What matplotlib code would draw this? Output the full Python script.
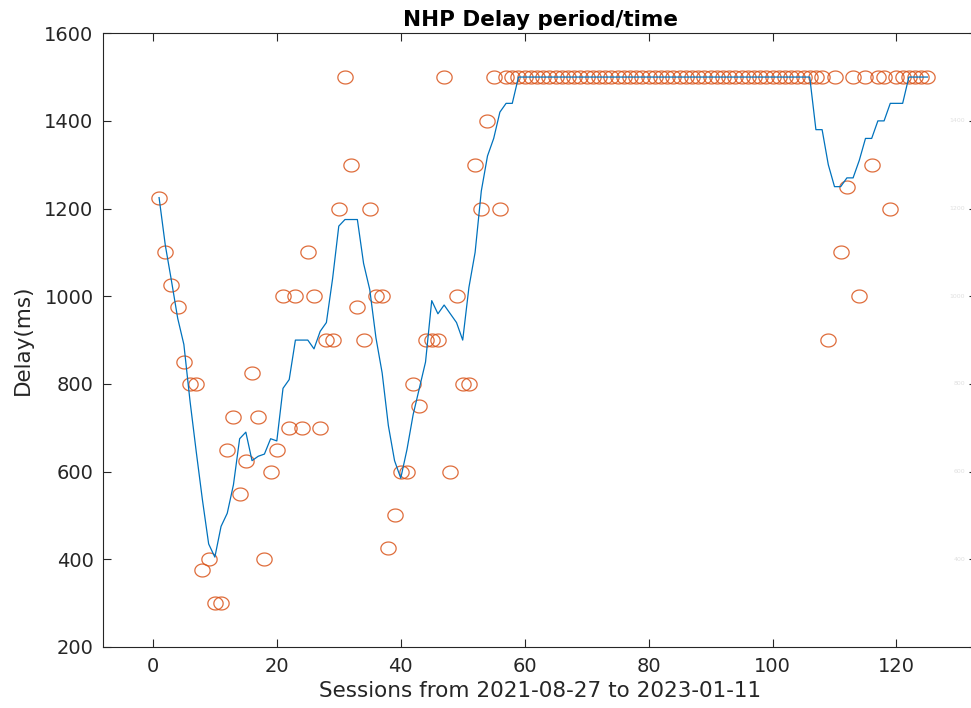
"""
NHP delay per session: raw delays as open circles with a 5-point smoothed trend.
Writes out.png.
"""
import numpy as np
import matplotlib.pyplot as plt
from matplotlib.path import Path
from matplotlib.transforms import blended_transform_factory

# session index (1..125)
sessions = np.arange(1, 126)

# measured delay per session (ms)
delay_ms = (
    [1225, 1100, 1025, 975, 850, 800, 800, 375, 400, 300,
     300, 650, 725, 550, 625, 825, 725, 400, 600, 650,
     1000, 700, 1000, 700, 1100, 1000, 700, 900, 900, 1200,
     1500, 1300, 975, 900, 1200, 1000, 1000, 425, 500, 600,
     600, 800, 750, 900, 900, 900, 1500, 600, 1000, 800,
     800, 1300, 1200, 1400, 1500, 1200]
    + [1500] * 52                                   # sessions 57-108
    + [900, 1500, 1100, 1250, 1500, 1000, 1500, 1300, 1500, 1500, 1200]
    + [1500] * 6                                    # sessions 120-125
)

# smoothed trend (5-point moving mean, shrinking span at the ends)
trend_ms = (
    [1225, 1116.7, 1035, 950, 890, 760, 645, 535, 435, 405,
     475, 505, 570, 675, 690, 625, 635, 640, 675, 670,
     790, 810, 900, 900, 900, 880, 920, 940, 1040, 1160,
     1175, 1175, 1175, 1075, 1015, 905, 825, 705, 625, 585,
     650, 730, 790, 850, 990, 960, 980, 960, 940, 900,
     1020, 1100, 1240, 1320, 1360, 1420, 1440, 1440]
    + [1500] * 48                                   # sessions 59-106
    + [1380, 1380, 1300, 1250, 1250, 1270, 1270, 1310, 1360, 1360,
       1400, 1400, 1440, 1440, 1440]
    + [1500] * 4                                    # sessions 122-125
)

y_ticks = [200, 400, 600, 800, 1000, 1200, 1400, 1600]
x_ticks = [0, 20, 40, 60, 80, 100, 120]
ghost_ticks = [400, 600, 800, 1000, 1200, 1400]

BLUE = "#0072BD"
ORANGE = "#D95319"
AXC = "#262626"

# slightly wide open-circle marker
t = np.linspace(0, 2 * np.pi, 60)
ellipse = Path(np.column_stack([1.18 * np.cos(t), np.sin(t)]), closed=True)

plt.rcParams["font.family"] = ["DejaVu Sans"]
fig = plt.figure(figsize=(9.71, 7.08), dpi=100)
ax = fig.add_axes([0.1064, 0.0862, 0.8998, 0.8669])

ax.plot(sessions, delay_ms, linestyle="none", marker=ellipse, markersize=11,
        markerfacecolor="none", markeredgecolor=ORANGE, markeredgewidth=0.9,
        alpha=0.85)
ax.plot(sessions, trend_ms, color=BLUE, linewidth=0.9)

ax.set_xlim(-8, 133)
ax.set_ylim(200, 1600)
ax.set_xticks(x_ticks)
ax.set_yticks(y_ticks)
ax.tick_params(direction="in", length=6, width=0.8, colors=AXC,
               labelsize=14, pad=7, top=True, right=True)
for s in ax.spines.values():
    s.set_color(AXC)
    s.set_linewidth(0.8)

ax.set_xlabel("Sessions from 2021-08-27 to 2023-01-11", fontsize=15.5,
              color=AXC, labelpad=4)
ax.set_ylabel("Delay(ms)", fontsize=15.5, color=AXC, labelpad=8)
ax.set_title("NHP Delay period/time", fontsize=15.5, fontweight="bold",
             color="black", pad=5)

# faint labels at the right edge
edge = blended_transform_factory(fig.transFigure, ax.transData)
for v in ghost_ticks:
    ax.text(0.994, v, str(v), transform=edge, fontsize=4.5,
            color="#e0e0e0", va="center", ha="right")

fig.savefig("out.png", dpi=100)
